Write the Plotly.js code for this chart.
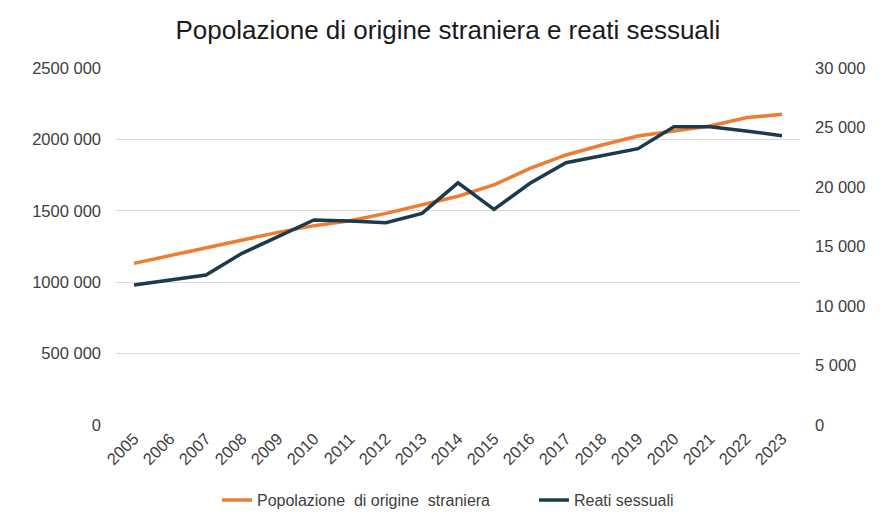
<!DOCTYPE html>
<html>
<head>
<meta charset="utf-8">
<script src="https://cdn.plot.ly/plotly-3.0.1.min.js"></script>
<style>html,body{margin:0;padding:0;background:#fff;}#chart{width:887px;height:514px;}</style>
</head>
<body>
<div id="chart"></div>
<script>
const years = ["2005","2006","2007","2008","2009","2010","2011","2012","2013","2014","2015","2016","2017","2018","2019","2020","2021","2022","2023"];
const popolazione = [1132000,1186000,1239000,1293000,1349000,1396000,1431000,1482000,1541000,1602000,1681000,1797000,1891000,1961000,2024000,2059000,2094000,2152000,2176000];
const reati = [11765,12185,12605,14429,15824,17227,17143,17003,17787,20350,18123,20308,22045,22605,23221,25070,25070,24706,24314];
const leftTickVals = [0,500000,1000000,1500000,2000000,2500000];
const leftTickText = ["0","500 000","1000 000","1500 000","2000 000","2500 000"];
const rightTickVals = [0,5000,10000,15000,20000,25000,30000];
const rightTickText = ["0","5 000","10 000","15 000","20 000","25 000","30 000"];

const font = {family: "Liberation Sans, Arial, sans-serif", size: 16.5, color: "#404040"};

const traces = [
  {x: years, y: popolazione, type: "scatter", mode: "lines", name: "Popolazione  di origine  straniera",
   line: {color: "#ED7D31", width: 3.5}, yaxis: "y"},
  {x: years, y: reati, type: "scatter", mode: "lines", name: "Reati sessuali",
   line: {color: "#1B3A4E", width: 3.5}, yaxis: "y2"}
];

const layout = {
  width: 887, height: 514,
  margin: {l: 116, r: 87, t: 68, b: 89},
  paper_bgcolor: "#ffffff", plot_bgcolor: "#ffffff",
  font: font,
  title: {text: "Popolazione di origine straniera e reati sessuali", x: 0.505, xanchor: "center", y: 0.942, yanchor: "middle",
          font: {family: "Liberation Sans, Arial, sans-serif", size: 26, color: "#1a1a1a"}},
  xaxis: {type: "category", tickangle: -45, showgrid: false, zeroline: false, showline: false, automargin: false,
          ticks: "", tickfont: font, range: [-0.5, 18.5]},
  yaxis: {range: [0, 2500000], tickvals: leftTickVals, ticktext: leftTickText, showgrid: true, automargin: false,
          gridcolor: "#d9d9d9", gridwidth: 1, zeroline: false, showline: false, ticks: "", tickfont: font, ticklabelstandoff: 14},
  yaxis2: {range: [0, 30000], tickvals: rightTickVals, ticktext: rightTickText, overlaying: "y", side: "right", automargin: false,
           showgrid: false, zeroline: false, showline: false, ticks: "", tickfont: font, ticklabelstandoff: 14},
  showlegend: true,
  legend: {orientation: "h", x: 0.602, xref: "container", xanchor: "center", y: 0.027, yref: "container", yanchor: "middle",
           entrywidth: 272, entrywidthmode: "pixels",
           font: {family: "Liberation Sans, Arial, sans-serif", size: 16, color: "#404040"}},
};

Plotly.newPlot("chart", traces, layout, {displayModeBar: false, staticPlot: true});
</script>
</body>
</html>
